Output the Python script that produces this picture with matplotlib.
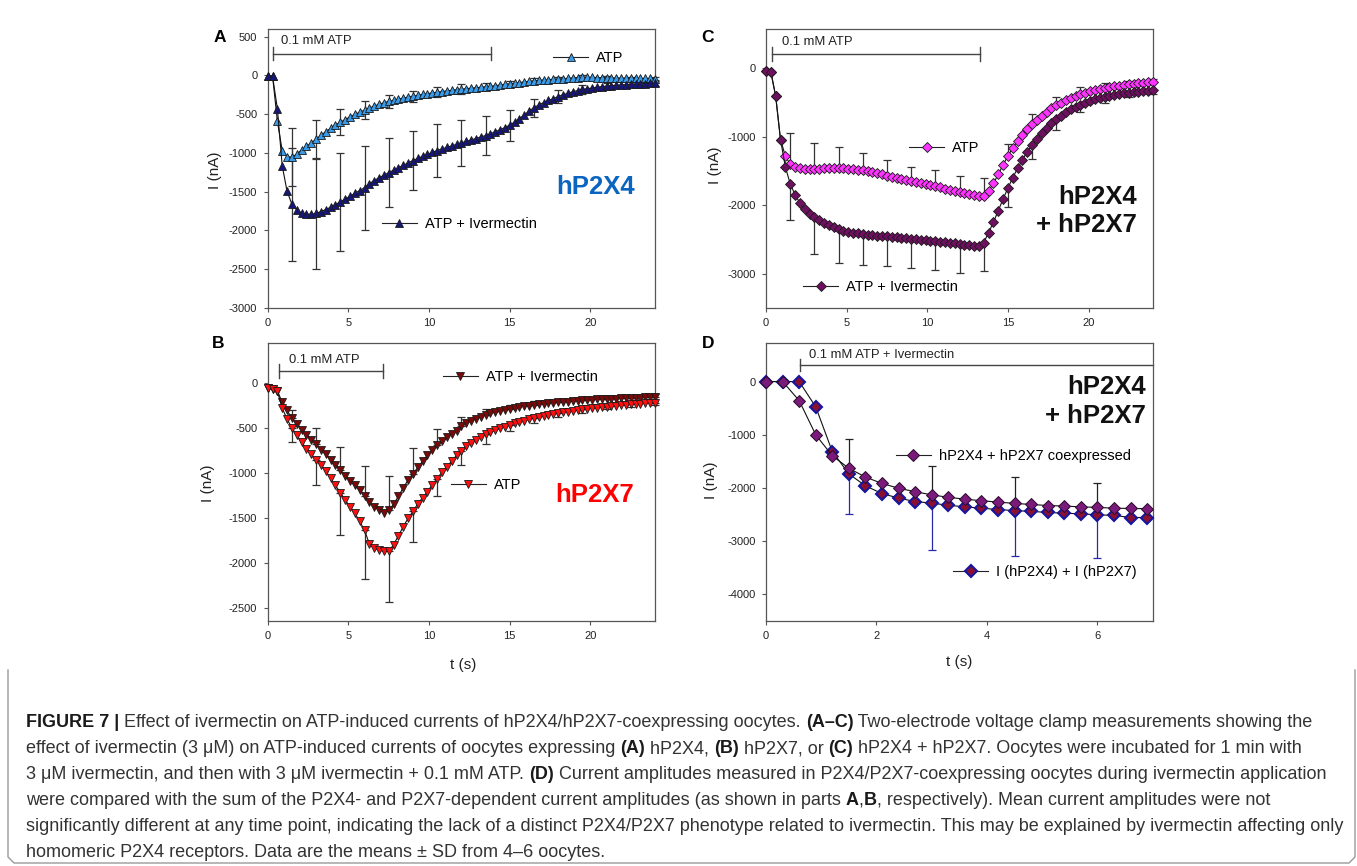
import numpy as np
import matplotlib
matplotlib.use("Agg")
import matplotlib.pyplot as plt
from matplotlib.lines import Line2D
from matplotlib.font_manager import FontProperties

plt.rcParams['font.family'] = ['Liberation Sans', 'DejaVu Sans']
plt.rcParams['axes.unicode_minus'] = False

W, H = 1357, 866

dt = 0.3

a_atp = [-5, -5, -590, -970, -1050, -1052, -1015, -960, -915, -870,
         -825, -770, -725, -682, -640, -603, -568, -535, -503, -474,
         -447, -420, -395, -372, -352, -335, -320, -305, -292, -279,
         -267, -256, -245, -235, -225, -215, -207, -199, -191, -183,
         -176, -170, -164, -158, -152, -146, -139, -131, -123, -115,
         -107, -99, -91, -83, -75, -68, -62, -57, -53, -49,
         -45, -41, -37, -31, -26, -22, -22, -24, -26, -28,
         -30, -31, -32, -33, -34, -35, -36, -37, -38, -38,
         -39]
a_ivm = [-10, -10, -430, -1165, -1495, -1660, -1735, -1775, -1790, -1790,
         -1780, -1755, -1730, -1700, -1665, -1632, -1595, -1560, -1520, -1485,
         -1448, -1395, -1355, -1320, -1287, -1254, -1222, -1190, -1160, -1128,
         -1098, -1070, -1043, -1017, -992, -968, -948, -928, -908, -889,
         -870, -851, -832, -813, -794, -775, -752, -727, -700, -672,
         -640, -600, -555, -510, -460, -415, -380, -350, -322, -298,
         -272, -250, -230, -210, -195, -180, -170, -162, -152, -144,
         -137, -131, -126, -121, -117, -113, -110, -107, -104, -102,
         -100]
a_atp_sd = [370, 250, 170, 118, 88, 70, 65, 60, 45, 35, 30, 25, 22, 20, 20, 20]
a_ivm_sd = [730, 720, 635, 540, 445, 385, 345, 295, 255, 200, 115, 80, 55, 40, 35, 30]

b_ivm = [-50, -65, -85, -215, -305, -390, -455, -520, -575, -630,
         -675, -740, -795, -855, -912, -965, -1030, -1090, -1140, -1195,
         -1255, -1330, -1375, -1415, -1445, -1415, -1350, -1260, -1165, -1080,
         -1010, -940, -870, -805, -745, -695, -650, -605, -565, -530,
         -478, -448, -422, -398, -376, -356, -338, -322, -308, -296,
         -285, -275, -266, -258, -250, -243, -236, -230, -225, -220,
         -215, -210, -205, -200, -196, -192, -188, -185, -182, -179,
         -176, -174, -172, -170, -168, -166, -164, -162, -160, -158,
         -156]
b_atp = [-60, -70, -90, -280, -400, -500, -580, -660, -730, -795,
         -855, -915, -980, -1060, -1140, -1220, -1300, -1380, -1450, -1540,
         -1640, -1790, -1840, -1860, -1875, -1875, -1800, -1700, -1600, -1505,
         -1430, -1345, -1275, -1210, -1130, -1065, -990, -930, -870, -805,
         -755, -705, -670, -635, -600, -570, -545, -525, -505, -485,
         -465, -448, -432, -417, -403, -390, -378, -366, -355, -345,
         -335, -326, -317, -309, -301, -294, -287, -280, -274, -268,
         -262, -257, -252, -247, -242, -238, -234, -230, -226, -222,
         -218]
b_ivm_sd = [95, 175, 250, 330, 380, 285, 180, 95, 65, 45, 40, 35, 30, 30, 30, 30]
b_atp_sd = [160, 275, 470, 540, 565, 340, 190, 160, 110, 70, 55, 40, 35, 30, 30, 30]

c_atp = [-35, -50, -405, -1040, -1280, -1400, -1440, -1460, -1470, -1470,
         -1470, -1465, -1460, -1455, -1455, -1460, -1462, -1465, -1470, -1478,
         -1488, -1500, -1515, -1530, -1548, -1565, -1580, -1598, -1615, -1632,
         -1650, -1665, -1680, -1695, -1710, -1725, -1740, -1755, -1770, -1785,
         -1805, -1820, -1835, -1850, -1865, -1860, -1790, -1680, -1550, -1410,
         -1280, -1165, -1060, -970, -890, -815, -750, -690, -635, -585,
         -540, -500, -465, -432, -403, -378, -355, -335, -317, -301,
         -287, -274, -262, -251, -241, -232, -224, -216, -209, -202,
         -196]
c_ivm = [-35, -50, -405, -1040, -1440, -1685, -1845, -1967, -2050, -2123,
         -2177, -2220, -2260, -2290, -2320, -2353, -2370, -2385, -2400, -2410,
         -2418, -2427, -2436, -2445, -2450, -2455, -2462, -2470, -2476, -2483,
         -2490, -2496, -2502, -2510, -2516, -2523, -2530, -2537, -2545, -2552,
         -2565, -2575, -2583, -2590, -2600, -2545, -2400, -2250, -2080, -1910,
         -1750, -1600, -1460, -1335, -1220, -1120, -1030, -950, -875, -805,
         -745, -690, -640, -598, -560, -528, -500, -475, -453, -433,
         -415, -400, -386, -374, -363, -353, -345, -338, -332, -327,
         -322]
c_atp_sd = [450, 385, 305, 250, 220, 215, 235, 240, 265, 170, 155, 125, 100, 75, 50, 40]
c_ivm_sd = [535, 535, 490, 455, 425, 425, 415, 420, 410, 275, 200, 160, 105, 90, 60, 50]

d_coexp = [0, 0, -357, -1000, -1395, -1630, -1795, -1915, -2005, -2070,
           -2130, -2175, -2210, -2240, -2265, -2290, -2310, -2330, -2340, -2355,
           -2365, -2380, -2385, -2390]
d_sum = [0, 0, 0, -475, -1315, -1735, -1960, -2105, -2190, -2255,
         -2285, -2325, -2355, -2380, -2405, -2425, -2440, -2460, -2475, -2485,
         -2505, -2515, -2555, -2555]
d_coexp_sd = [545, 540, 495, 450]
d_sum_sd = [750, 875, 850, 815]

# ATP application bars: start, stop, level (nA)
app_a = (0.35, 13.85, 280)
app_b = (0.68, 7.12, 137)
app_c = (0.35, 13.27, 210)
app_d = (0.62, 7.0, 313)

t_long = np.arange(len(a_atp)) * dt
t_d = np.arange(len(d_coexp)) * dt
err_every = 5

fig = plt.figure(figsize=(W / 100, H / 100), dpi=100)


def px(x, y):
    return x / W, 1 - y / H


def make_ax(left, top, right, bottom, xlim, ylim, xticks, yticks):
    ax = fig.add_axes([left / W, 1 - bottom / H, (right - left) / W, (bottom - top) / H])
    for s in ax.spines.values():
        s.set_color('#555555')
        s.set_linewidth(0.9)
    ax.tick_params(direction='out', length=3, width=0.8, color='#555555',
                   labelsize=8, labelcolor='#222222', pad=4.5)
    ax.set_xlim(*xlim)
    ax.set_ylim(*ylim)
    ax.set_xticks(xticks)
    ax.set_yticks(yticks)
    return ax


def series(ax, t, y, face, marker, ms, edge='#1a1a1a', mew=0.6):
    ax.plot(t, y, color='#111111', lw=0.8, marker=marker, ms=ms, mfc=face,
            mec=edge, mew=mew, zorder=3, clip_on=False)


def bars(ax, t, y, sd, up=True, down=True, color='#333333'):
    t = np.asarray(t)[err_every::err_every]
    y = np.asarray(y, dtype=float)[err_every::err_every]
    sd = np.asarray(sd, dtype=float)[:len(t)]
    lo = sd if down else np.zeros_like(sd)
    hi = sd if up else np.zeros_like(sd)
    ax.errorbar(t, y, yerr=[lo, hi], fmt='none', ecolor=color, elinewidth=0.9,
                capsize=3, capthick=0.9, zorder=2, clip_on=False)


def app_bar(ax, app, cap, label, tx, ty, right_cap=True):
    t0, t1, lvl = app
    ax.plot([t0, t1], [lvl, lvl], color='#444444', lw=1, clip_on=False)
    ax.plot([t0, t0], [lvl - cap, lvl + cap], color='#444444', lw=1)
    if right_cap:
        ax.plot([t1, t1], [lvl - cap, lvl + cap], color='#444444', lw=1)
    ax.text(tx, ty, label, fontsize=9.4, color='#222222', va='center', ha='left')


def key(x0, y0, label, **style):
    h = Line2D([], [], color='#222222', lw=0.8, **style)
    fig.legend([h], [label], loc='center left', bbox_to_anchor=px(x0, y0),
               frameon=False, borderpad=0, borderaxespad=0, handlelength=2.4,
               handletextpad=0.55, numpoints=1, fontsize=10.5)


tri_ms, dia_ms, big_ms = 5.4, 5.0, 6.4

# ---- panel A ----
axA = make_ax(267.7, 29, 655, 308, (0, 24), (-3000, 600), [0, 5, 10, 15, 20],
              np.arange(-3000, 501, 500))
bars(axA, t_long, a_atp, a_atp_sd)
bars(axA, t_long, a_ivm, a_ivm_sd)
series(axA, t_long, a_atp, '#3a9be8', '^', tri_ms)
series(axA, t_long, a_ivm, '#16167a', '^', tri_ms)
app_bar(axA, app_a, 82, '0.1 mM ATP', 0.82, 445)

# ---- panel B ----
axB = make_ax(267.7, 342.7, 655, 621, (0, 24), (-2650, 450), [0, 5, 10, 15, 20],
              np.arange(-2500, 1, 500))
bars(axB, t_long, b_ivm, b_ivm_sd, down=False)
bars(axB, t_long, b_atp, b_atp_sd, up=False)
series(axB, t_long, b_ivm, '#7a0a0a', 'v', tri_ms)
series(axB, t_long, b_atp, '#ff1010', 'v', tri_ms)
app_bar(axB, app_b, 75, '0.1 mM ATP', 1.34, 258)

# ---- panel C ----
axC = make_ax(766, 29, 1153, 308, (0, 24), (-3500, 575), [0, 5, 10, 15, 20],
              [-3000, -2000, -1000, 0])
bars(axC, t_long, c_atp, c_atp_sd, down=False)
bars(axC, t_long, c_ivm, c_ivm_sd, up=False)
series(axC, t_long, c_atp, '#ff33ff', 'D', dia_ms)
series(axC, t_long, c_ivm, '#6e1060', 'D', dia_ms)
app_bar(axC, app_c, 98, '0.1 mM ATP', 0.97, 390)

# ---- panel D ----
axD = make_ax(766, 342.7, 1152.7, 621, (0, 7), (-4500, 730), [0, 2, 4, 6],
              [-4000, -3000, -2000, -1000, 0])
bars(axD, t_d, d_coexp, d_coexp_sd, down=False, color='#222222')
bars(axD, t_d, d_sum, d_sum_sd, up=False, color='#2a2aa8')
series(axD, t_d, d_sum, '#8b1030', 'D', big_ms, edge='#1515a0', mew=1.5)
series(axD, t_d, d_coexp, '#7a1a7a', 'D', big_ms, edge='#2a0a2a', mew=0.7)
app_bar(axD, app_d, 120, '0.1 mM ATP + Ivermectin', 0.77, 500, right_cap=False)

# ---- legends ----
key(553, 58.3, 'ATP', marker='^', ms=tri_ms, mfc='#3a9be8', mec='#1a1a1a', mew=0.6)
key(381.7, 224, 'ATP + Ivermectin', marker='^', ms=tri_ms, mfc='#16167a', mec='#1a1a1a', mew=0.6)
key(442.7, 376.7, 'ATP + Ivermectin', marker='v', ms=tri_ms, mfc='#7a0a0a', mec='#1a1a1a', mew=0.6)
key(450.7, 485, 'ATP', marker='v', ms=tri_ms, mfc='#ff1010', mec='#1a1a1a', mew=0.6)
key(909, 148.3, 'ATP', marker='D', ms=dia_ms, mfc='#ff33ff', mec='#1a1a1a', mew=0.6)
key(803, 286.7, 'ATP + Ivermectin', marker='D', ms=dia_ms, mfc='#6e1060', mec='#1a1a1a', mew=0.6)
key(895.7, 455.7, 'hP2X4 + hP2X7 coexpressed', marker='D', ms=big_ms, mfc='#7a1a7a', mec='#2a0a2a', mew=0.7)
key(953, 571.7, 'I (hP2X4) + I (hP2X7)', marker='D', ms=big_ms, mfc='#8b1030', mec='#1515a0', mew=1.5)

# ---- panel letters, receptor labels, axis labels ----
for letter, (x, y) in zip('ABCD', [(220, 38), (218, 344), (708, 37), (708, 344)]):
    fig.text(*px(x, y), letter, fontsize=12.5, fontweight='bold', ha='center', va='center')

fig.text(*px(596, 187), 'hP2X4', fontsize=18.5, fontweight='bold', color='#0a64c0',
         ha='center', va='center')
fig.text(*px(595, 495), 'hP2X7', fontsize=18.5, fontweight='bold', color='#ff0000',
         ha='center', va='center')
for (x, y), s in zip([(1137, 197), (1137, 225), (1146, 387), (1146, 416)],
                     ['hP2X4', '+ hP2X7', 'hP2X4', '+ hP2X7']):
    fig.text(*px(x, y), s, fontsize=18.5, fontweight='bold', color='#111111',
             ha='right', va='center')

for (x, y) in [(215, 170), (208, 483), (715, 165), (711, 480)]:
    fig.text(*px(x, y), 'I (nA)', fontsize=11, rotation=90, ha='center', va='center',
             color='#222222')
for (x, y) in [(463, 665), (959, 662)]:
    fig.text(*px(x, y), 't (s)', fontsize=11, ha='center', va='center', color='#222222')

# ---- caption ----
cap_lines = [
    [("FIGURE 7 |", True), (" Effect of ivermectin on ATP-induced currents of hP2X4/hP2X7-coexpressing oocytes. ", False),
     ("(A–C)", True), (" Two-electrode voltage clamp measurements showing the", False)],
    [("effect of ivermectin (3 μM) on ATP-induced currents of oocytes expressing ", False), ("(A)", True),
     (" hP2X4, ", False), ("(B)", True), (" hP2X7, or ", False), ("(C)", True),
     (" hP2X4 + hP2X7. Oocytes were incubated for 1 min with", False)],
    [("3 μM ivermectin, and then with 3 μM ivermectin + 0.1 mM ATP. ", False), ("(D)", True),
     (" Current amplitudes measured in P2X4/P2X7-coexpressing oocytes during ivermectin application", False)],
    [("were compared with the sum of the P2X4- and P2X7-dependent current amplitudes (as shown in parts ", False),
     ("A", True), (",", False), ("B", True), (", respectively). Mean current amplitudes were not", False)],
    [("significantly different at any time point, indicating the lack of a distinct P2X4/P2X7 phenotype "
      "related to ivermectin. This may be explained by ivermectin affecting only", False)],
    [("homomeric P2X4 receptors. Data are the means ± SD from 4–6 oocytes.", False)],
]
cap_base = [727, 753, 779, 805, 831, 857]
cap_x0 = 26
cap_right = {0: 1325, 2: 1330, 4: 1337}   # right ends of the long lines in the reference

renderer = fig.canvas.get_renderer()


def seg_width(s, size, bold):
    fp = FontProperties(family='Liberation Sans', size=size, weight='bold' if bold else 'normal')
    w1 = renderer.get_text_width_height_descent('x' + s + 'x', fp, ismath=False)[0]
    w0 = renderer.get_text_width_height_descent('xx', fp, ismath=False)[0]
    return w1 - w0


cap_size = min(11 * (right - cap_x0) / sum(seg_width(s, 11, b) for s, b in cap_lines[i])
               for i, right in cap_right.items())

for yb, parts in zip(cap_base, cap_lines):
    x = cap_x0
    for s, b in parts:
        fig.text(*px(x, yb), s, fontsize=cap_size, fontweight='bold' if b else 'normal',
                 ha='left', va='baseline', color='#1a1a1a' if b else '#333333')
        x += seg_width(s, cap_size, b)

# caption frame (left, right and rounded bottom)
r = 6
frame_x = [8, 8, 8 + r, 1355 - r, 1355, 1355]
frame_y = [670, 863 - r, 863, 863, 863 - r, 670]
fx, fy = zip(*[px(a, b) for a, b in zip(frame_x, frame_y)])
fig.add_artist(Line2D(fx, fy, color='#9a9a9a', lw=1))

fig.savefig('out.png', dpi=100)
